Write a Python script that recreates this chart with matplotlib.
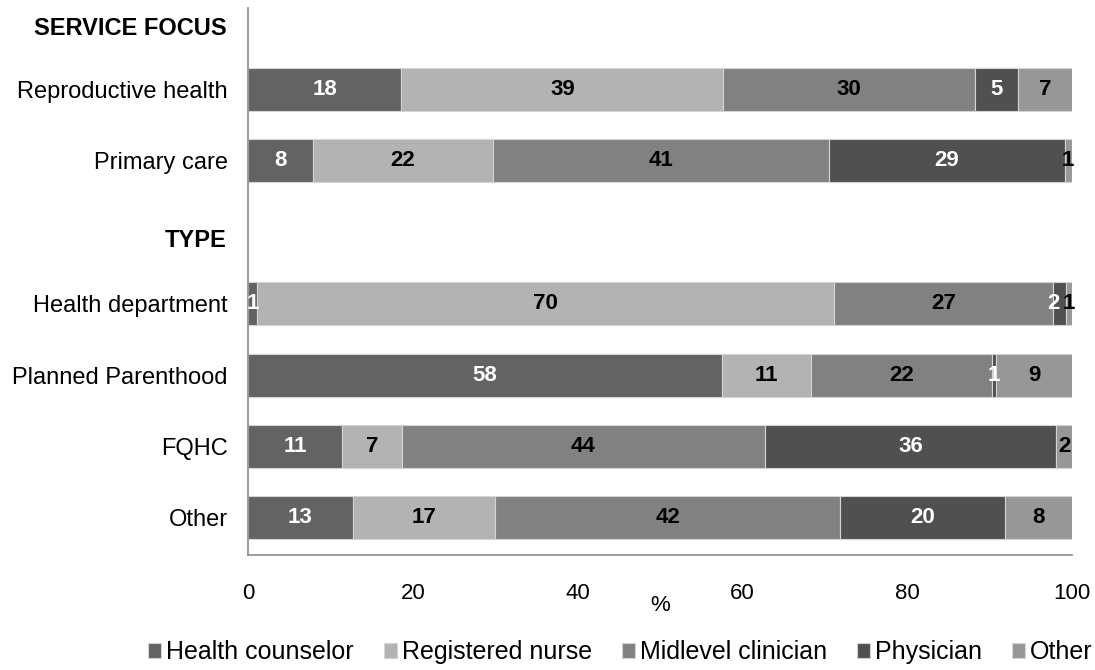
import numpy as np
import matplotlib
matplotlib.use('Agg')
import matplotlib.pyplot as plt

plt.rcParams['font.family'] = ['Liberation Sans', 'DejaVu Sans']

# row layout (top to bottom); headers have no bars
rows = ['SERVICE FOCUS', 'Reproductive health', 'Primary care', 'TYPE',
        'Health department', 'Planned Parenthood', 'FQHC', 'Other']
headers = ['SERVICE FOCUS', 'TYPE']
bar_rows = ['Reproductive health', 'Primary care', 'Health department',
            'Planned Parenthood', 'FQHC', 'Other']

series = ['Health counselor', 'Registered nurse', 'Midlevel clinician', 'Physician', 'Other']
colors = ['#636363', '#b3b3b3', '#818181', '#505050', '#979797']
label_colors = ['white', 'black', 'black', 'white', 'black']

# segment widths (%), and printed labels
health_counselor = [18.6, 7.9, 1.1, 57.5, 11.4, 12.7]
registered_nurse = [39.1, 21.8, 70.0, 10.8, 7.3, 17.3]
midlevel = [30.5, 40.8, 26.6, 22.0, 44.0, 41.9]
physician = [5.3, 28.6, 1.6, 0.5, 35.4, 20.0]
other = [6.5, 0.9, 0.7, 9.2, 1.9, 8.1]

lab_hc = ['18', '8', '1', '58', '11', '13']
lab_rn = ['39', '22', '70', '11', '7', '17']
lab_ml = ['30', '41', '27', '22', '44', '42']
lab_ph = ['5', '29', '2', '1', '36', '20']
lab_ot = ['7', '1', '1', '9', '2', '8']

values = [health_counselor, registered_nurse, midlevel, physician, other]
labels = [lab_hc, lab_rn, lab_ml, lab_ph, lab_ot]

fig = plt.figure(figsize=(10.95, 6.70), dpi=100)
ax = fig.add_axes([0.2265, 0.1716, 0.7525, 0.8164])

ypos = np.array([rows.index(r) for r in bar_rows])
left = np.zeros(len(bar_rows))
for k, (vals, labs, col, lc, name) in enumerate(zip(values, labels, colors, label_colors, series)):
    vals = np.array(vals)
    ax.barh(ypos, vals, left=left, height=0.6, color=col, edgecolor='#d4d4d4',
            linewidth=0.8, label=name)
    for i, (y, l, v, t) in enumerate(zip(ypos, left, vals, labs)):
        xc = l + v / 2
        # thin segments: label sits just inside the right edge
        if v < 2.5:
            xc = min(xc, 99.6)
            if k + 1 < len(values) and values[k + 1][i] < 2.5:
                xc -= 0.7  # neighbour is thin too, make room
        ax.text(xc, y, t, ha='center', va='center', color=lc,
                fontsize=16, fontweight='bold')
    left += vals

ax.set_xlim(0, 100)
ax.set_ylim(7.52, -0.14)
ax.set_xticks([0, 20, 40, 60, 80, 100])
ax.tick_params(axis='x', length=0, pad=20, labelsize=16)
ax.tick_params(axis='y', length=0, pad=14.5, labelsize=17)

ax.set_yticks(ypos)
ax.set_yticklabels(bar_rows)
for h, yoff in zip(headers, [0.14, 0.11]):
    ax.text(-0.026, rows.index(h) + yoff, h, transform=ax.get_yaxis_transform(),
            ha='right', va='center', fontsize=17, fontweight='bold')

ax.set_xlabel('%', fontsize=16, labelpad=-6)

for s in ['top', 'right']:
    ax.spines[s].set_visible(False)
for s in ['left', 'bottom']:
    ax.spines[s].set_color('#8c8c8c')
    ax.spines[s].set_linewidth(1.2)

ax.legend(loc='center', bbox_to_anchor=(0.452, -0.178), ncol=5, frameon=False,
          fontsize=18, handlelength=0.5, handleheight=0.5, handletextpad=0.2,
          columnspacing=1.22, borderaxespad=0)

fig.savefig('out.png', dpi=100)
